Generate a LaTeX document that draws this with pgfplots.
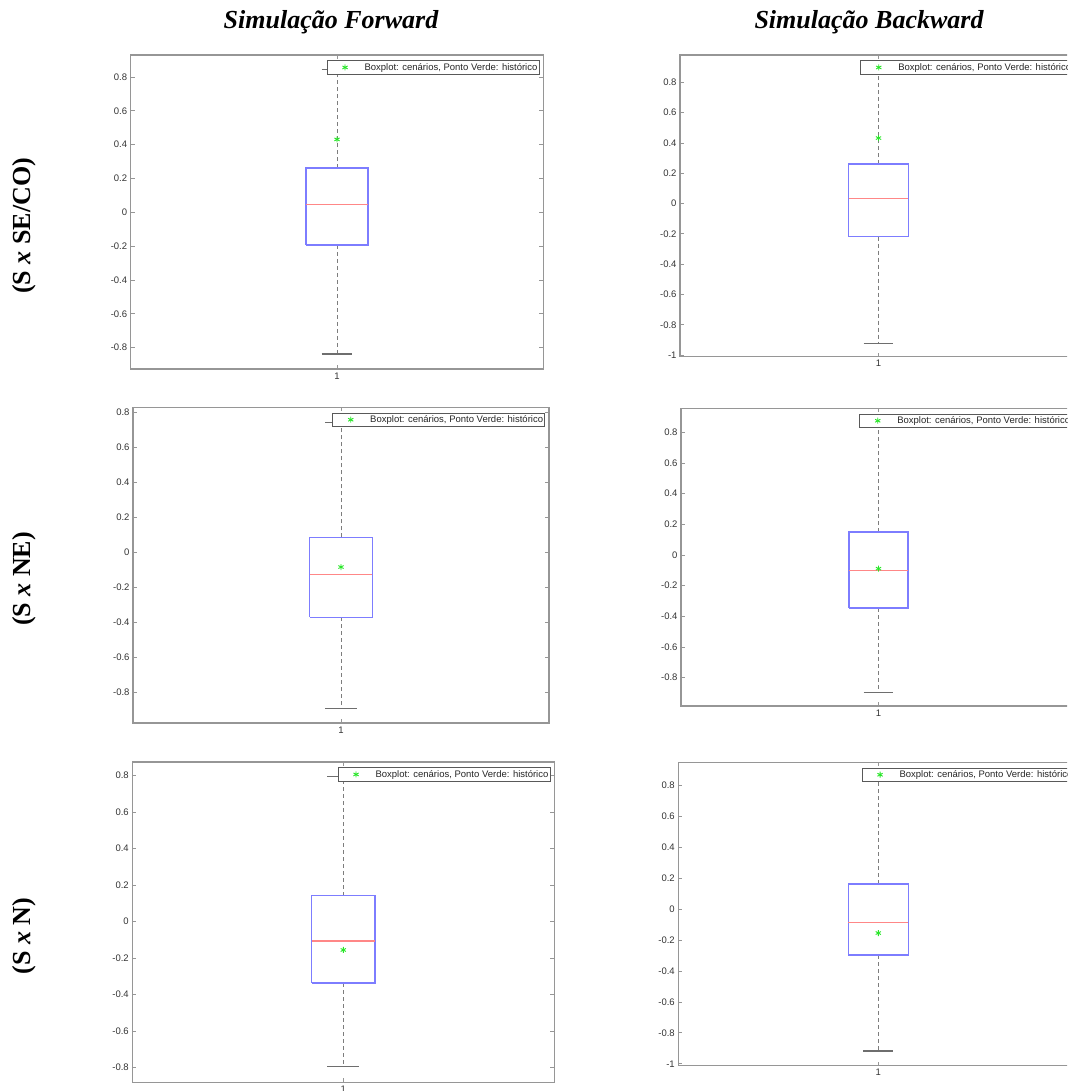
\documentclass[border=0pt]{standalone}
\usepackage{pgfplots}
\pgfplotsset{compat=1.18}
\usepackage{fontspec}
\setmainfont{Liberation Sans}
\newfontfamily\timesfont{Liberation Serif}
\definecolor{boxblue}{RGB}{125,125,255}
\definecolor{medred}{RGB}{255,135,135}
\definecolor{histgreen}{RGB}{40,230,40}
\definecolor{axgray}{RGB}{150,150,150}
\definecolor{whgray}{RGB}{125,125,125}
\definecolor{capgray}{RGB}{110,110,110}

\pgfplotsset{
  panel/.style={
    scale only axis, anchor=south west,
    xmin=0.5, xmax=1.5, xtick={1},
    tick align=inside, major tick length=4pt,
    every tick/.style={draw=axgray, line width=0.8pt},
    axis line style={draw=axgray, line width=1.2pt},
    tick label style={font=\fontsize{9.5}{11}\selectfont, text=black!80},
    /pgf/number format/assume math mode=true,
    yticklabel style={/pgf/number format/fixed, /pgf/number format/precision=1},
    legend style={at={(1,1)}, anchor=north east, xshift=-4pt, yshift=-5.5pt,
      draw=black!65, line width=0.8pt, fill=white, inner sep=0pt,
      font=\fontsize{9.5}{11}\selectfont, text=black!85,
      cells={anchor=west}, nodes={inner xsep=1.5pt, inner ysep=2.3pt}},
    legend image code/.code={\path[draw=none] (0pt,0pt) -- (36pt,0pt); \draw[#1] plot[only marks] coordinates {(18pt,0pt)};},
  },
  whisk/.style={draw=whgray, line width=1pt, dash pattern=on 4pt off 3pt, mark=none, forget plot},
  capst/.style={draw=capgray, line width=1.2pt, mark=none, forget plot},
  boxst/.style={draw=boxblue, line width=1.3pt, mark=none, line join=miter, forget plot},
  medst/.style={draw=medred, line width=1.2pt, mark=none, forget plot},
  hist/.style={only marks, mark=asterisk, mark size=3pt, histgreen, mark options={line width=0.9pt}},
}
% box plot from its five values: lower whisker, lower quartile, median, upper quartile, upper whisker
\newcommand{\bplot}[5]{%
  \addplot[whisk] coordinates {(1,#2) (1,#1)};
  \addplot[whisk] coordinates {(1,#4) (1,#5)};
  \addplot[capst] coordinates {(0.9625,#1) (1.0375,#1)};
  \addplot[capst] coordinates {(0.9625,#5) (1.0375,#5)};
  \addplot[boxst] coordinates {(0.925,#2) (1.075,#2) (1.075,#4) (0.925,#4) (0.925,#2)};
  \addplot[medst] coordinates {(0.925,#3) (1.075,#3)};
}
\newcommand{\legtext}{Boxplot: cenários, Ponto Verde: histórico}

\begin{document}
\begin{tikzpicture}
\useasboundingbox (0pt,0pt) rectangle (1067pt,1091pt);
\clip (0pt,0pt) rectangle (1067pt,1091pt);

% Titles
\node[font=\timesfont\bfseries\itshape\fontsize{26}{30}\selectfont] at (331pt,1068.5pt) {Simulação Forward};
\node[font=\timesfont\bfseries\itshape\fontsize{26}{30}\selectfont] at (869pt,1068.5pt) {Simulação Backward};

% Row labels
\node[rotate=90, font=\timesfont\bfseries\fontsize{26}{30}\selectfont] at (24pt,865pt) {(S \textit{x} SE/CO)};
\node[rotate=90, font=\timesfont\bfseries\fontsize{26}{30}\selectfont] at (24pt,512pt) {(S \textit{x} NE)};
\node[rotate=90, font=\timesfont\bfseries\fontsize{26}{30}\selectfont] at (24pt,155pt) {(S \textit{x} N)};

% P1: Forward, S x SE/CO
\begin{axis}[panel, at={(130.7pt,722pt)}, width=412.6pt, height=314pt,
  ymin=-0.926, ymax=0.93, ytick={-0.8,-0.6,-0.4,-0.2,0,0.2,0.4,0.6,0.8}]
\bplot{-0.837}{-0.193}{0.045}{0.262}{0.845}
\addplot[hist] coordinates {(1,0.431)};
\addlegendentry{\legtext}
\end{axis}

% P2: Backward, S x SE/CO
\begin{axis}[panel, at={(680pt,734.3pt)}, width=397pt, height=301.7pt,
  ymin=-1.01, ymax=0.98, ytick={-1,-0.8,-0.6,-0.4,-0.2,0,0.2,0.4,0.6,0.8}]
\bplot{-0.922}{-0.218}{0.031}{0.26}{0.887}
\addplot[hist] coordinates {(1,0.432)};
\addlegendentry{\legtext}
\end{axis}

% P3: Forward, S x NE
\begin{axis}[panel, at={(133pt,368pt)}, width=416pt, height=315.7pt,
  ymin=-0.977, ymax=0.827, ytick={-0.8,-0.6,-0.4,-0.2,0,0.2,0.4,0.6,0.8}]
\bplot{-0.893}{-0.373}{-0.128}{0.084}{0.741}
\addplot[hist] coordinates {(1,-0.086)};
\addlegendentry{\legtext}
\end{axis}

% P4: Backward, S x NE
\begin{axis}[panel, at={(681pt,385pt)}, width=395pt, height=297.7pt,
  ymin=-0.985, ymax=0.957, ytick={-0.8,-0.6,-0.4,-0.2,0,0.2,0.4,0.6,0.8}]
\bplot{-0.896}{-0.346}{-0.10}{0.15}{0.87}
\addplot[hist] coordinates {(1,-0.089)};
\addlegendentry{\legtext}
\end{axis}

% P5: Forward, S x N
\begin{axis}[panel, at={(132.3pt,8.7pt)}, width=422pt, height=320.3pt,
  ymin=-0.88, ymax=0.875, ytick={-0.8,-0.6,-0.4,-0.2,0,0.2,0.4,0.6,0.8}]
\bplot{-0.795}{-0.336}{-0.106}{0.142}{0.795}
\addplot[hist] coordinates {(1,-0.155)};
\addlegendentry{\legtext}
\end{axis}

% P6: Backward, S x N
\begin{axis}[panel, at={(678.3pt,25.3pt)}, width=400pt, height=303.4pt,
  ymin=-1.012, ymax=0.948, ytick={-1,-0.8,-0.6,-0.4,-0.2,0,0.2,0.4,0.6,0.8}]
\bplot{-0.917}{-0.297}{-0.086}{0.162}{0.827}
\addplot[hist] coordinates {(1,-0.155)};
\addlegendentry{\legtext}
\end{axis}
\end{tikzpicture}
\end{document}
